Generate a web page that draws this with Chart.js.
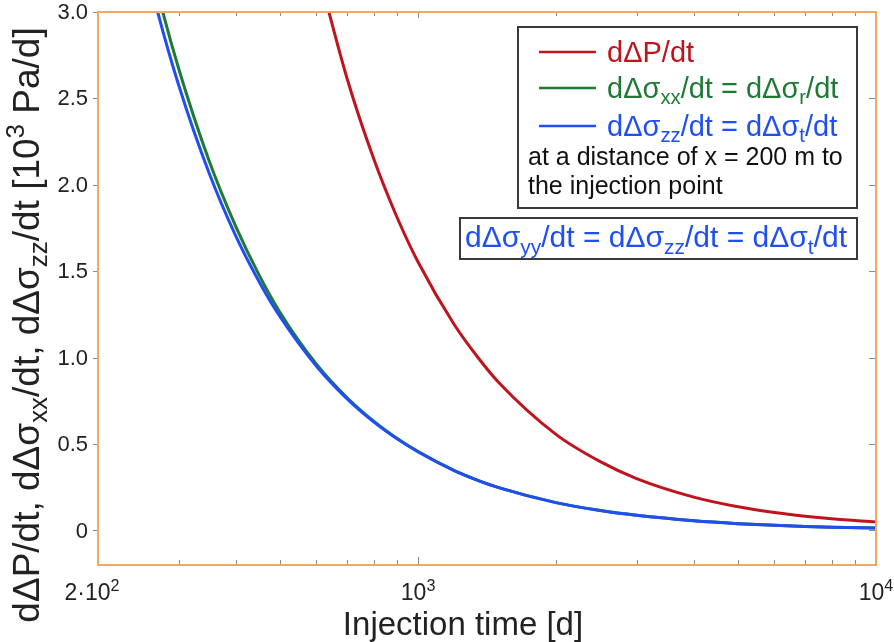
<!DOCTYPE html>
<html><head><meta charset="utf-8">
<script src="https://cdn.jsdelivr.net/npm/chart.js@4/dist/chart.umd.min.js"></script>
<style>html,body{margin:0;padding:0;background:#fff;overflow:hidden}canvas{display:block}</style>
</head><body>
<canvas id="c" width="894" height="642"></canvas>
<script>
// ---- data ----
const injectionTime = [240,270,300,350,400,450,500,600,700,800,900,1000,1200,1350,1500,2000,2500,3000,4000,5000,6000,7000,8000,10000];
const pressureRate  = [null,null,null,null,null,null,null,3.274,2.614,2.151,1.811,1.553,1.190,1.002,0.856,0.556,0.398,0.300,0.193,0.137,0.104,0.0825,0.0675,0.0483];
const stressRateXX  = [3.695,3.114,2.673,2.136,1.758,1.476,1.260,0.962,0.768,0.632,0.532,0.456,0.346,0.290,0.2477,0.1609,0.1151,0.0875,0.0559,0.0394,0.0297,0.0233,0.0190,0.0134];
const stressRateZZ  = [3.554,3.000,2.578,2.065,1.703,1.438,1.235,0.950,0.761,0.628,0.530,0.455,0.346,0.290,0.2477,0.1609,0.1151,0.0875,0.0559,0.0394,0.0297,0.0233,0.0190,0.0134];
const yTickValues = [0,0.5,1.0,1.5,2.0,2.5,3.0];
const xMajorTicks = [200,1000,10000];
const xMinorTicks = [300,400,500,600,700,800,900,2000,3000,4000,5000,6000,7000,8000,9000];
const xTickLabels = [
  [{t:'2·10'},{t:'2',k:'sup'}],
  [{t:'10'},{t:'3',k:'sup'}],
  [{t:'10'},{t:'4',k:'sup'}]
];

const RED='#bf141c', GREEN='#1f7a36', BLUE='#1f4ff2', FRAME='#f0a95f';
const FONT='"Liberation Sans", Arial, sans-serif';

function pts(arr){ return injectionTime.map((t,i)=>({x:t,y:arr[i]})); }

function richWidth(ctx, segs, size){
  let w=0;
  for(const s of segs){ ctx.font=(s.k?size*0.7:size)+'px '+FONT; w+=ctx.measureText(s.t).width; }
  return w;
}
function drawRich(ctx, segs, x, y, size, color, align, rot){
  ctx.save(); ctx.translate(x,y); if(rot) ctx.rotate(rot);
  const w=richWidth(ctx,segs,size);
  let cx = align==='center' ? -w/2 : (align==='right' ? -w : 0);
  ctx.fillStyle=color; ctx.textBaseline='alphabetic'; ctx.textAlign='left';
  for(const s of segs){
    const fs = s.k ? size*0.7 : size;
    ctx.font=fs+'px '+FONT;
    let dy=0; if(s.k==='sub') dy=size*0.22; else if(s.k==='sup') dy=-size*0.4;
    ctx.fillText(s.t,cx,dy);
    cx+=ctx.measureText(s.t).width;
  }
  ctx.restore();
}

const framePlugin = {
  id:'frame',
  afterDatasetsDraw(chart){
    const {ctx, chartArea:a, scales:{x,y}} = chart;
    ctx.save();
    ctx.strokeStyle='#8a8a8a'; ctx.lineWidth=1;
    ctx.beginPath();
    for(const v of xMinorTicks){ const px=Math.round(x.getPixelForValue(v))+0.5;
      ctx.moveTo(px,a.bottom); ctx.lineTo(px,a.bottom-5); ctx.moveTo(px,a.top); ctx.lineTo(px,a.top+4); }
    for(const v of xMajorTicks){ const px=Math.round(x.getPixelForValue(v))+0.5;
      ctx.moveTo(px,a.bottom); ctx.lineTo(px,a.bottom-8); ctx.moveTo(px,a.top); ctx.lineTo(px,a.top+6); }
    for(const v of yTickValues){ const py=Math.round(y.getPixelForValue(v))+0.5;
      ctx.moveTo(a.left-5,py); ctx.lineTo(a.left,py); ctx.moveTo(a.right,py); ctx.lineTo(a.right-7,py); }
    ctx.stroke();
    ctx.strokeStyle=FRAME; ctx.lineWidth=2;
    ctx.strokeRect(a.left,a.top,a.right-a.left,a.bottom-a.top);
    ctx.restore();
  },
  afterDraw(chart){
    const {ctx, chartArea:a, scales:{x,y}} = chart;
    ctx.save();
    ctx.fillStyle='#222'; ctx.font='22px '+FONT; ctx.textAlign='right'; ctx.textBaseline='middle';
    for(const v of yTickValues){ ctx.fillText(v===0?'0':v.toFixed(1), 88, y.getPixelForValue(v)+1); }
    xMajorTicks.forEach((v,i)=>{ drawRich(ctx,xTickLabels[i],x.getPixelForValue(v)-(i===0?6:0),600,23,'#222','center'); });
    drawRich(ctx,[{t:'Injection time [d]'}],463,635,33,'#222','center');
    drawRich(ctx,[{t:'dΔP/dt, dΔσ'},{t:'xx',k:'sub'},{t:'/dt, dΔσ'},{t:'zz',k:'sub'},{t:'/dt [10'},{t:'3',k:'sup'},{t:' Pa/d]'}],
      39,325,37,'#222','center',-Math.PI/2);
    // legend box 1
    ctx.fillStyle='#fff'; ctx.fillRect(518,27,339,181);
    ctx.strokeStyle='#3a3a3a'; ctx.lineWidth=2; ctx.strokeRect(518,27,339,181);
    const rows=[
      {c:RED, y:52, segs:[{t:'dΔP/dt'}]},
      {c:GREEN, y:88, segs:[{t:'dΔσ'},{t:'xx',k:'sub'},{t:'/dt = dΔσ'},{t:'r',k:'sub'},{t:'/dt'}]},
      {c:BLUE, y:126, segs:[{t:'dΔσ'},{t:'zz',k:'sub'},{t:'/dt = dΔσ'},{t:'t',k:'sub'},{t:'/dt'}]}
    ];
    for(const r of rows){
      ctx.strokeStyle=r.c; ctx.lineWidth=2.5; ctx.beginPath(); ctx.moveTo(539,r.y); ctx.lineTo(596,r.y); ctx.stroke();
      drawRich(ctx,r.segs,607,r.y+10,29,r.c,'left');
    }
    drawRich(ctx,[{t:'at a distance of x = 200 m to'}],528,165,25,'#111','left');
    drawRich(ctx,[{t:'the injection point'}],528,194,25,'#111','left');
    // legend box 2
    ctx.fillStyle='#fff'; ctx.fillRect(460,218,397,41);
    ctx.strokeStyle='#3a3a3a'; ctx.lineWidth=2; ctx.strokeRect(460,218,397,41);
    drawRich(ctx,[{t:'dΔσ'},{t:'yy',k:'sub'},{t:'/dt = dΔσ'},{t:'zz',k:'sub'},{t:'/dt = dΔσ'},{t:'t',k:'sub'},{t:'/dt'}],
      465,247,30,BLUE,'left');
    ctx.restore();
  }
};

new Chart(document.getElementById('c'), {
  type:'line',
  data:{ datasets:[
    {label:'dΔP/dt', data:pts(pressureRate), borderColor:RED, order:0},
    {label:'dΔσxx/dt = dΔσr/dt', data:pts(stressRateXX), borderColor:GREEN, order:2},
    {label:'dΔσzz/dt = dΔσt/dt', data:pts(stressRateZZ), borderColor:BLUE, order:1}
  ]},
  options:{
    responsive:false, animation:false, devicePixelRatio:1,
    layout:{padding:{left:98,right:18,top:12,bottom:77}},
    plugins:{legend:{display:false}, tooltip:{enabled:false}},
    scales:{
      x:{type:'logarithmic', min:200, max:10000, display:false},
      y:{type:'linear', min:-0.2, max:3.0, display:false}
    },
    elements:{point:{radius:0}, line:{borderWidth:3, cubicInterpolationMode:'monotone', fill:false}},
    datasets:{line:{clip:0}}
  },
  plugins:[framePlugin]
});
</script>
</body></html>
